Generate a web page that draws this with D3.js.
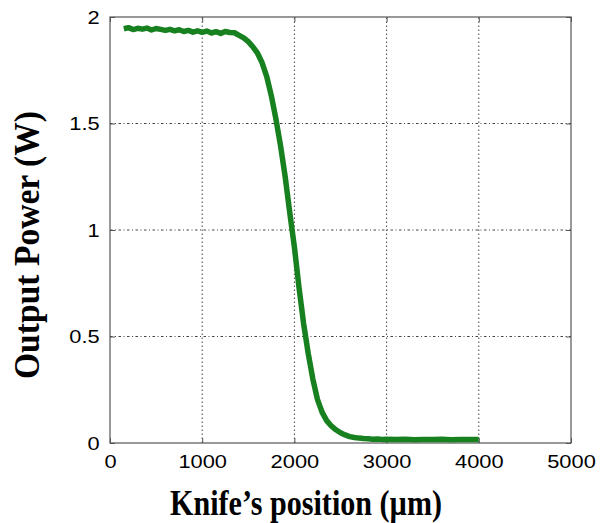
<!DOCTYPE html>
<html>
<head>
<meta charset="utf-8">
<script src="https://cdn.jsdelivr.net/npm/d3@7"></script>
<style>
  body { margin: 0; background: #fff; }
  .tick text { font-family: Arial, "Liberation Sans", sans-serif; font-size: 19px; fill: #000; }
  .title { font-family: "Times New Roman", "Liberation Serif", serif; font-weight: bold; font-size: 35px; fill: #000; }
</style>
</head>
<body>
<script>
const w = 611;
const h = 523;

// knife position (um) and measured output power (W)
const positions = [150, 200, 250, 300, 350, 400, 450, 500, 550, 600, 650, 700, 750, 800, 850, 900, 950,
  1000, 1050, 1100, 1150, 1200, 1250, 1300, 1350, 1400, 1450, 1500, 1550, 1600, 1650, 1700, 1750,
  1800, 1850, 1900, 1950, 2000, 2050, 2100, 2150, 2200, 2250, 2300, 2350, 2400, 2450, 2500, 2550,
  2600, 2650, 2700, 2750, 2800, 2850, 2900, 2950, 3000, 3100, 3200, 3300, 3400, 3500, 3600, 3700,
  3800, 3900, 4000];
const power = [1.945, 1.950, 1.941, 1.947, 1.943, 1.948, 1.939, 1.946, 1.942, 1.937, 1.942, 1.935, 1.940, 1.932, 1.937, 1.929, 1.935,
  1.928, 1.934, 1.925, 1.931, 1.923, 1.932, 1.927, 1.926, 1.914, 1.902, 1.884, 1.860, 1.830, 1.785, 1.720, 1.630,
  1.520, 1.395, 1.250, 1.080, 0.920, 0.730, 0.560, 0.420, 0.300, 0.205, 0.145, 0.105, 0.080, 0.062, 0.048, 0.038,
  0.030, 0.026, 0.023, 0.021, 0.020, 0.018, 0.019, 0.017, 0.018, 0.016, 0.018, 0.015, 0.017, 0.016, 0.018, 0.015,
  0.017, 0.016, 0.017];

const xTicks = [0, 1000, 2000, 3000, 4000, 5000];
const yTicks = [0, 0.5, 1, 1.5, 2];

const margin = {left: 110, right: 40, top: 17, bottom: 80};

const x = d3.scaleLinear().domain([0, 5000]).range([margin.left, w - margin.right]);
const y = d3.scaleLinear().domain([0, 2]).range([h - margin.bottom, margin.top]);

let svg = d3.select("body")
            .append("svg")
                .attr("width", w)
                .attr("height", h);

// grid
svg.append("g")
    .selectAll("line")
    .data(xTicks.slice(1, -1))
    .enter()
    .append("line")
    .attr("x1", d => x(d)).attr("x2", d => x(d))
    .attr("y1", y(0)).attr("y2", y(2))
    .attr("stroke", "#444")
    .attr("stroke-dasharray", "1.5,2.5");
svg.append("g")
    .selectAll("line")
    .data(yTicks.slice(1, -1))
    .enter()
    .append("line")
    .attr("x1", x(0)).attr("x2", x(5000))
    .attr("y1", d => y(d)).attr("y2", d => y(d))
    .attr("stroke", "#444")
    .attr("stroke-dasharray", "2.5,2.5,1,2.5");

// axes
svg.append("g")
    .attr("transform", "translate(0," + y(0) + ")")
    .call(d3.axisBottom(x).tickValues(xTicks).tickFormat(d3.format("d")).tickSizeInner(-5).tickSizeOuter(0).tickPadding(12))
    .call(g => g.select(".domain").remove())
    .call(g => g.selectAll(".tick text").attr("transform", "scale(1.15,1)"));
svg.append("g")
    .attr("transform", "translate(" + x(0) + ",0)")
    .call(d3.axisLeft(y).tickValues(yTicks).tickFormat(d => d).tickSizeInner(-5).tickSizeOuter(0).tickPadding(9))
    .call(g => g.select(".domain").remove())
    .call(g => g.selectAll(".tick text").attr("transform", "scale(1.15,1)"));
svg.append("g")
    .attr("transform", "translate(0," + y(2) + ")")
    .call(d3.axisTop(x).tickValues(xTicks).tickSizeInner(-5).tickSizeOuter(0).tickFormat(""))
    .call(g => g.select(".domain").remove());
svg.append("g")
    .attr("transform", "translate(" + x(5000) + ",0)")
    .call(d3.axisRight(y).tickValues(yTicks).tickSizeInner(-5).tickSizeOuter(0).tickFormat(""))
    .call(g => g.select(".domain").remove());
svg.selectAll(".tick line").attr("stroke", "#555");

// frame
svg.append("rect")
    .attr("x", x(0)).attr("y", y(2))
    .attr("width", x(5000) - x(0))
    .attr("height", y(0) - y(2))
    .attr("fill", "none")
    .attr("stroke", "#555")
    .attr("stroke-width", 1.2);

// data line
const line = d3.line()
    .x((d, i) => x(positions[i]))
    .y(d => y(d));

svg.append("path")
    .datum(power)
    .attr("d", line)
    .attr("fill", "none")
    .attr("stroke", "#17801f")
    .attr("stroke-width", 5.5)
    .attr("stroke-linejoin", "round");

// titles
svg.append("text")
    .attr("class", "title")
    .attr("x", 306)
    .attr("y", 515)
    .attr("text-anchor", "middle")
    .attr("textLength", 272)
    .attr("lengthAdjust", "spacingAndGlyphs")
    .text("Knife\u2019s position (\u00b5m)");

svg.append("text")
    .attr("class", "title")
    .attr("transform", "translate(39," + 245 + ") rotate(-90)")
    .attr("text-anchor", "middle")
    .attr("textLength", 268)
    .attr("lengthAdjust", "spacingAndGlyphs")
    .text("Output Power (W)");
</script>
</body>
</html>
